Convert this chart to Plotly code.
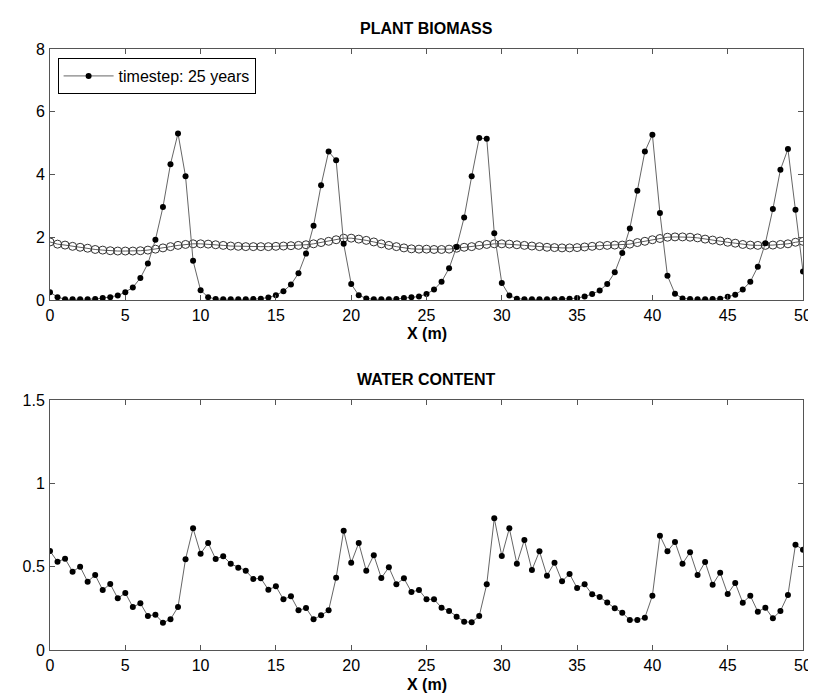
import plotly.graph_objects as go

# ---- data ----
x_m = [i * 0.5 for i in range(101)]

biomass_25y = [
    0.25, 0.09, 0.02, 0.02, 0.02, 0.02, 0.03, 0.06, 0.09, 0.14,
    0.25, 0.40, 0.70, 1.16, 1.92, 2.96, 4.33, 5.31, 3.94, 1.25,
    0.31, 0.09, 0.03, 0.02, 0.02, 0.02, 0.02, 0.03, 0.04, 0.08,
    0.15, 0.28, 0.49, 0.85, 1.48, 2.37, 3.66, 4.73, 4.45, 1.79,
    0.51, 0.15, 0.05, 0.02, 0.02, 0.02, 0.03, 0.06, 0.09, 0.11,
    0.19, 0.33, 0.58, 1.01, 1.69, 2.63, 3.94, 5.16, 5.14, 2.13,
    0.54, 0.14, 0.04, 0.02, 0.02, 0.02, 0.02, 0.02, 0.03, 0.04,
    0.06, 0.11, 0.19, 0.30, 0.51, 0.88, 1.50, 2.28, 3.48, 4.73,
    5.27, 2.77, 0.77, 0.20, 0.05, 0.03, 0.02, 0.02, 0.03, 0.04,
    0.10, 0.17, 0.33, 0.58, 1.06, 1.81, 2.90, 4.15, 4.81, 2.88,
    0.91,
]

biomass_initial = [
    1.85, 1.78, 1.75, 1.71, 1.68, 1.65, 1.61, 1.59, 1.57, 1.56,
    1.56, 1.56, 1.57, 1.59, 1.62, 1.66, 1.70, 1.74, 1.77, 1.79,
    1.79, 1.78, 1.76, 1.74, 1.72, 1.71, 1.70, 1.70, 1.70, 1.70,
    1.71, 1.72, 1.73, 1.74, 1.76, 1.79, 1.83, 1.87, 1.92, 1.97,
    1.97, 1.94, 1.90, 1.85, 1.79, 1.74, 1.70, 1.66, 1.63, 1.62,
    1.62, 1.61, 1.61, 1.62, 1.65, 1.68, 1.70, 1.74, 1.77, 1.79,
    1.79, 1.78, 1.76, 1.74, 1.72, 1.70, 1.68, 1.67, 1.66, 1.66,
    1.67, 1.69, 1.71, 1.73, 1.74, 1.75, 1.75, 1.78, 1.83, 1.87,
    1.92, 1.96, 2.00, 2.01, 2.01, 2.00, 1.98, 1.94, 1.91, 1.88,
    1.84, 1.81, 1.77, 1.75, 1.74, 1.74, 1.75, 1.77, 1.79, 1.84,
    1.87,
]

water_25y = [
    0.594, 0.530, 0.548, 0.470, 0.500, 0.410, 0.450, 0.360, 0.396, 0.310,
    0.342, 0.258, 0.280, 0.204, 0.212, 0.164, 0.184, 0.258, 0.545, 0.730,
    0.578, 0.642, 0.546, 0.563, 0.517, 0.494, 0.476, 0.426, 0.430, 0.362,
    0.382, 0.304, 0.322, 0.238, 0.252, 0.184, 0.208, 0.238, 0.434, 0.716,
    0.523, 0.642, 0.476, 0.569, 0.432, 0.496, 0.394, 0.430, 0.348, 0.360,
    0.304, 0.304, 0.254, 0.234, 0.200, 0.170, 0.166, 0.204, 0.394, 0.790,
    0.564, 0.730, 0.518, 0.660, 0.480, 0.592, 0.446, 0.524, 0.412, 0.456,
    0.372, 0.394, 0.334, 0.318, 0.285, 0.250, 0.224, 0.180, 0.180, 0.194,
    0.326, 0.686, 0.592, 0.648, 0.518, 0.586, 0.450, 0.528, 0.392, 0.464,
    0.336, 0.402, 0.284, 0.326, 0.230, 0.254, 0.190, 0.234, 0.330, 0.632,
    0.601,
]

x_ticks = [0, 5, 10, 15, 20, 25, 30, 35, 40, 45, 50]
bio_ticks = [0, 2, 4, 6, 8]
water_ticks = [0, 0.5, 1, 1.5]
water_tick_text = ["0", "0.5", "1", "1.5"]

FONT = "Liberation Sans, Arial, sans-serif"
AX = "#555555"

fig = go.Figure()

fig.add_trace(go.Scatter(
    x=x_m, y=biomass_initial, mode="lines+markers", showlegend=False,
    line=dict(color="#333333", width=0.8),
    marker=dict(symbol="circle-open", size=8, color="#333333", line=dict(width=1)),
    xaxis="x", yaxis="y",
))
fig.add_trace(go.Scatter(
    x=x_m, y=biomass_25y, mode="lines+markers", name="timestep: 25 years",
    line=dict(color="#666666", width=1),
    marker=dict(symbol="circle", size=6, color="black"),
    xaxis="x", yaxis="y",
))
fig.add_trace(go.Scatter(
    x=x_m, y=water_25y, mode="lines+markers", showlegend=False,
    line=dict(color="#666666", width=1),
    marker=dict(symbol="circle", size=6, color="black"),
    xaxis="x2", yaxis="y2",
))

axis_common = dict(
    showline=True, linecolor=AX, linewidth=1, mirror="ticks",
    ticks="inside", ticklen=5, tickcolor=AX, tickwidth=1,
    showgrid=False, zeroline=False,
    tickfont=dict(family=FONT, size=16, color="black"),
)

top_dom = [0.5824, 1.0]
bot_dom = [0.0, 0.416]

fig.update_layout(
    width=816, height=693,
    margin=dict(l=42, r=12, t=41, b=51),
    paper_bgcolor="white", plot_bgcolor="white",
    font=dict(family=FONT, size=16, color="black"),
    xaxis=dict(domain=[0, 1], anchor="y", range=[0, 50], tickvals=x_ticks,
               ticklabelstandoff=1, **axis_common),
    yaxis=dict(domain=top_dom, anchor="x", range=[0, 8], tickvals=bio_ticks,
               ticklabelstandoff=1, **axis_common),
    xaxis2=dict(domain=[0, 1], anchor="y2", range=[0, 50], tickvals=x_ticks,
                ticklabelstandoff=1, **axis_common),
    yaxis2=dict(domain=bot_dom, anchor="x2", range=[0, 1.5], tickvals=water_ticks,
                ticktext=water_tick_text, ticklabelstandoff=1, **axis_common),
    legend=dict(
        x=0.0101, y=0.985, xanchor="left", yanchor="top",
        bgcolor="white", bordercolor="black", borderwidth=1,
        font=dict(family=FONT, size=16, color="black"),
        itemwidth=50, tracegroupgap=0,
    ),
    annotations=[
        dict(text="<b>PLANT BIOMASS</b>", x=0.5, y=top_dom[1], xref="paper", yref="paper",
             xanchor="center", yanchor="bottom", yshift=10, showarrow=False,
             font=dict(family=FONT, size=16)),
        dict(text="<b>X (m)</b>", x=0.5, y=top_dom[0], xref="paper", yref="paper",
             xanchor="center", yanchor="middle", yshift=-34, showarrow=False,
             font=dict(family=FONT, size=16)),
        dict(text="<b>WATER CONTENT</b>", x=0.5, y=bot_dom[1], xref="paper", yref="paper",
             xanchor="center", yanchor="bottom", yshift=10, showarrow=False,
             font=dict(family=FONT, size=16)),
        dict(text="<b>X (m)</b>", x=0.5, y=bot_dom[0], xref="paper", yref="paper",
             xanchor="center", yanchor="middle", yshift=-34, showarrow=False,
             font=dict(family=FONT, size=16)),
    ],
)

fig.write_html("out.html")
